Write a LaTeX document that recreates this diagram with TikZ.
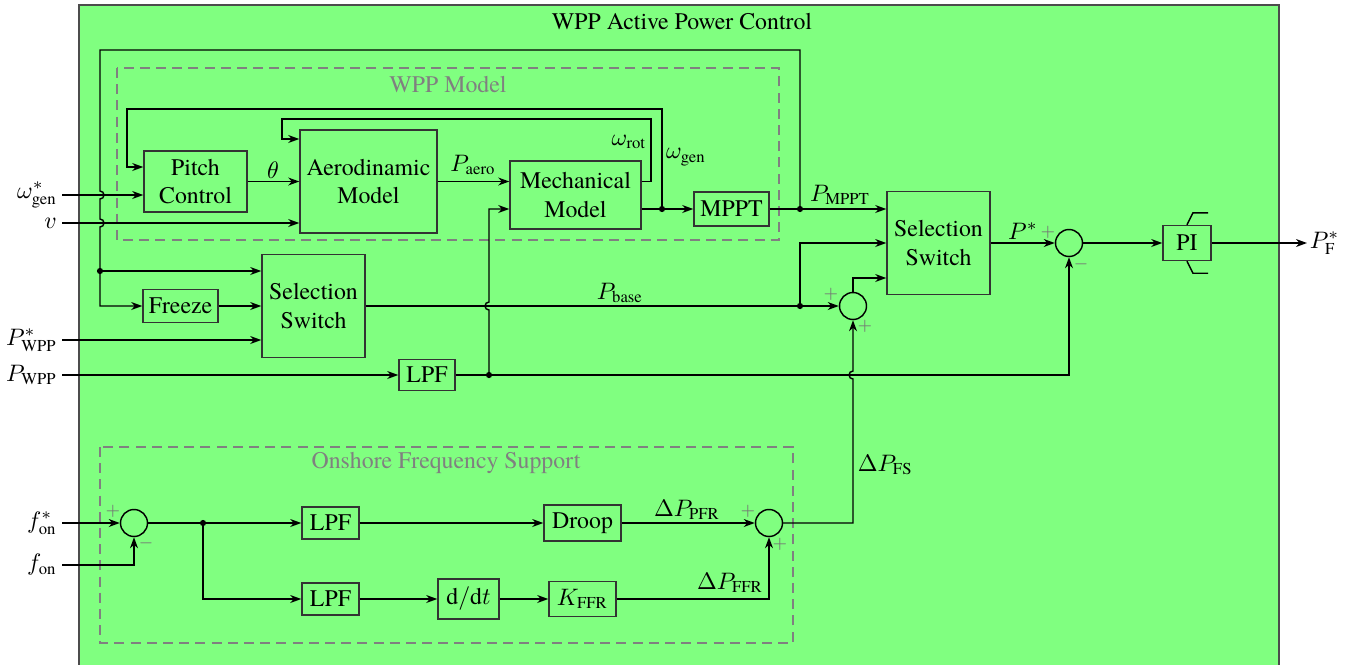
\documentclass[tikz,border=0pt]{standalone}
\usepackage{amsmath}
\usepackage{fontspec}
\setmainfont{TeX Gyre Termes}
\usetikzlibrary{arrows.meta,calc}
\newcommand\pu{0.42pt}
\definecolor{bg}{RGB}{128,255,128}
\tikzset{
 blk/.style={draw=black!80, line width=0.6pt, fill=bg, rectangle, inner sep=1pt, align=center},
 sumj/.style={draw=black, line width=0.6pt, circle, minimum size=27*\pu, inner sep=0pt},
 conn/.style={line width=0.6pt},
 arr/.style={conn, -{Stealth[length=4.6pt,width=3.3pt,inset=1.4pt]}},
 dot/.style={circle, fill=black, inner sep=0pt, minimum size=2.6pt},
 sgn/.style={text=black!55, font=\scriptsize, inner sep=0pt},
 grp/.style={draw=black!50, line width=0.6pt, dash pattern=on 4.2pt off 2.6pt},
 grplbl/.style={text=black!50, inner sep=0pt},
 lbl/.style={inner sep=1pt},
 inlbl/.style={inner sep=2pt, anchor=east},
}
\begin{document}
\begin{tikzpicture}[x=0.42pt, y=-0.42pt]
\useasboundingbox (0,0) rectangle (1356,664);
\draw[fill=bg, draw=black!70, line width=0.7pt] (79,5) rectangle (1279,690);
\node[inner sep=0pt] (title) at (682,22) {WPP Active Power Control};

% group boxes
\draw[grp] (117,68) rectangle (779,240);
\node[grplbl] (wppm) at (448,84) {WPP Model};
\draw[grp] (100,447) rectangle (793,643);
\node[grplbl] (ofs) at (446,463) {Onshore Frequency Support};

% blocks
\node[blk, minimum width=103*\pu, minimum height=61*\pu] (pitch) at (195.5,181.5) {Pitch\\Control};
\node[blk, minimum width=137*\pu, minimum height=103*\pu] (aero) at (368.5,181.5) {Aerodinamic\\Model};
\node[blk, minimum width=131*\pu, minimum height=68*\pu] (mech) at (575.5,195) {Mechanical\\Model};
\node[blk, minimum width=75*\pu, minimum height=34*\pu] (mppt) at (731.5,209) {MPPT};
\node[blk, minimum width=103*\pu, minimum height=103*\pu] (sel2) at (938.5,243) {Selection\\Switch};
\node[blk, minimum width=48*\pu, minimum height=35*\pu] (pi) at (1187,243) {PI};
\node[blk, minimum width=75*\pu, minimum height=33*\pu] (freeze) at (180.5,306) {Freeze};
\node[blk, minimum width=103*\pu, minimum height=103*\pu] (sel1) at (313.5,306) {Selection\\Switch};
\node[blk, minimum width=56*\pu, minimum height=31*\pu] (lpf1) at (427,375) {LPF};
\node[blk, minimum width=57*\pu, minimum height=32*\pu] (lpfA) at (330.5,523) {LPF};
\node[blk, minimum width=57*\pu, minimum height=32*\pu] (lpfB) at (330.5,599) {LPF};
\node[blk, minimum width=77*\pu, minimum height=36*\pu] (droop) at (582.5,523) {Droop};
\node[blk, minimum width=61*\pu, minimum height=40*\pu] (ddt) at (468.5,599) {$\mathrm{d}/\mathrm{d}t$};
\node[blk, minimum width=67*\pu, minimum height=35*\pu] (kffr) at (582.5,599) {$K_{\text{FFR}}$};

% summing junctions
\node[sumj] (sumA) at (134,523) {};
\node[sumj] (sumB) at (769,523) {};
\node[sumj] (sumP) at (853,306) {};
\node[sumj] (sumE) at (1069,243) {};

% dots
\node[dot] (dM) at (800,209) {};
\node[dot] (dL) at (100,271) {};
\node[dot] (dG) at (662,209) {};
\node[dot] (dP) at (489,375) {};
\node[dot] (dB) at (800,306) {};
\node[dot] (dF) at (203,523) {};

% input labels
\node[inlbl] (lw) at (62,195) {$\omega^*_{\text{gen}}$};
\node[inlbl] (lv) at (62,223) {$v$};
\node[inlbl] (lPs) at (62,340) {$P^*_{\text{WPP}}$};
\node[inlbl] (lPw) at (62,375) {$P_{\text{WPP}}$};
\node[inlbl] (lfs) at (62,523) {$f^*_{\text{on}}$};
\node[inlbl] (lf) at (62,565) {$f_{\text{on}}$};

% coordinates for loops
\coordinate (topR) at (800,50);
\coordinate (topL) at (100,50);
\coordinate (rotR) at (651,119);
\coordinate (rotL) at (282,119);
\coordinate (genR) at (662,109);
\coordinate (genL) at (127,109);
\coordinate (out) at (1307,243);

% outer loop
\draw[arr] (dM.center) -- (topR) -- (topL) -- (100,191)
  arc[start angle=-90,end angle=90,radius=4] -- (100,219)
  arc[start angle=-90,end angle=90,radius=4] -- (100,306) -- (freeze.west);
\draw[arr] (dL.center) -- (sel1.west |- dL.center);
\draw[arr] (freeze.east) -- (sel1.west |- freeze.east);
\draw[arr] (lPs.east) -- (sel1.west |- lPs.east);

% inputs into WPP model
\draw[arr] (lw.east) -- (pitch.west |- lw.east);
\draw[arr] (lv.east) -- (aero.west |- lv.east);
\draw[arr] (pitch.east) -- (aero.west |- pitch.east);
\draw[arr] (aero.east) -- (mech.west |- aero.east);
\draw[arr] (mech.east |- aero.east) -| (rotR) -- (rotL) |- (aero.west |- 0,139);
\draw[conn] (mech.east |- dG.center) -- (dG.center);
\draw[arr] (dG.center) -- (mppt.west);
\draw[arr] (dG.center) -- (genR) -- (genL) |- (pitch.west |- 0,167);
\draw[arr] (mppt.east) -- (sel2.west |- mppt.east);

% LPF path
\draw[arr] (lPw.east) -- (lpf1.west);
\draw[arr] (lpf1.east) -- (sumE.south |- dP.center) -- (sumE.south);
\draw[arr] (dP.center) -- (489,310) arc[start angle=90,end angle=270,radius=4]
  -- (489,209) -- (mech.west |- 0,209);

% base path
\draw[arr] (sel1.east) -- (sumP.west);
\draw[arr] (dB.center) |- (sel2.west |- 0,243);
\draw[arr] (sumP.north) |- (sel2.west |- 0,278);

% output
\draw[arr] (sel2.east) -- (sumE.west);
\draw[arr] (sumE.east) -- (pi.west);
\draw[arr] (pi.east) -- (out);
\node[anchor=west, inner sep=1pt] (lout) at (out) {$P^*_{\text{F}}$};
\draw[conn] (pi.north) -- ++(6,-12) -- ++(15,0);
\draw[conn] (pi.south) -- ++(6,12) -- ++(15,0);

% OFS
\draw[arr] (lfs.east) -- (sumA.west);
\draw[arr] (lf.east) -| (sumA.south);
\draw[arr] (sumA.east) -- (lpfA.west);
\draw[arr] (dF.center) |- (lpfB.west);
\draw[arr] (lpfA.east) -- (droop.west);
\draw[arr] (droop.east) -- (sumB.west);
\draw[arr] (lpfB.east) -- (ddt.west);
\draw[arr] (ddt.east) -- (kffr.west);
\draw[arr] (kffr.east) -| (sumB.south);
\draw[arr] (sumB.east) -- (sumP.south |- sumB.east) -- (853,379)
  arc[start angle=90,end angle=270,radius=4] -- (sumP.south);

% signal labels
\node[lbl] (lth) at (273,170) {$\theta$};
\node[lbl] (lpa) at (473,165) {$P_{\text{aero}}$};
\node[lbl] (lwr) at (629,142) {$\omega_{\text{rot}}$};
\node[lbl] (lwg) at (686,157) {$\omega_{\text{gen}}$};
\node[lbl] (lpm) at (840,195) {$P_{\text{MPPT}}$};
\node[lbl] (lps) at (1023,231) {$P^*$};
\node[lbl] (lpb) at (620,293) {$P_{\text{base}}$};
\node[lbl, anchor=west] (lfsd) at (855,465) {$\Delta P_{\text{FS}}$};
\node[lbl] (lpfr) at (687,510) {$\Delta P_{\text{PFR}}$};
\node[lbl] (lffr) at (730,583) {$\Delta P_{\text{FFR}}$};

% signs
\node[sgn] at (1048,232) {$+$};
\node[sgn] at (1081,264) {$-$};
\node[sgn] at (831,294) {$+$};
\node[sgn] at (865,326) {$+$};
\node[sgn] at (113,511) {$+$};
\node[sgn] at (146,543) {$-$};
\node[sgn] at (748,511) {$+$};
\node[sgn] at (780,544) {$+$};
\end{tikzpicture}
\end{document}
